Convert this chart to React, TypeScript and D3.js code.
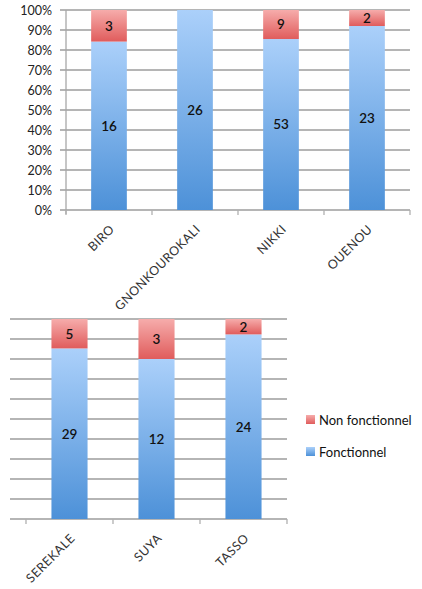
import React from "react";
import * as d3 from "d3";

// Top panel
const topCategories = ["BIRO", "GNONKOUROKALI", "NIKKI", "OUENOU"];
const topFonctionnel = [16, 26, 53, 23];
const topNonFonctionnel = [3, 0, 9, 2];

// Bottom panel
const bottomCategories = ["SEREKALE", "SUYA", "TASSO"];
const bottomFonctionnel = [29, 12, 24];
const bottomNonFonctionnel = [5, 3, 2];

const yTicks = [0, 0.1, 0.2, 0.3, 0.4, 0.5, 0.6, 0.7, 0.8, 0.9, 1];
const seriesNames = ["Non fonctionnel", "Fonctionnel"];

const FONT = "Lato, 'Open Sans', sans-serif";

type PanelProps = {
  categories: string[];
  fonct: number[];
  nonFonct: number[];
  x0: number;
  x1: number;
  gridLeft: number;
  yTop: number;
  yBottom: number;
  showYAxis: boolean;
};

function Panel({ categories, fonct, nonFonct, x0, x1, gridLeft, yTop, yBottom, showYAxis }: PanelProps) {
  const x = d3.scaleBand<string>().domain(categories).range([x0, x1]).padding(0);
  const y = d3.scaleLinear().domain([0, 1]).range([yBottom, yTop]);
  const barW = x.step() * 0.415;
  const pct = d3.format(".0%");
  const boundaries = d3.range(categories.length + 1).map((i) => x0 + i * x.step());

  return (
    <g>
      {yTicks.map((t) => (
        <line key={t} x1={gridLeft} x2={x1} y1={y(t)} y2={y(t)} stroke="#9c9c9c" strokeWidth={1.3} />
      ))}
      {showYAxis && <line x1={x0} x2={x0} y1={yTop} y2={yBottom + 4} stroke="#a8a8a8" strokeWidth={1.3} />}
      {showYAxis &&
        yTicks.map((t) => (
          <text
            key={"l" + t}
            x={52}
            y={y(t)}
            dy="0.36em"
            textAnchor="end"
            fontSize={12.5}
            fill="#222"
            fontFamily={FONT}
          >
            {pct(t)}
          </text>
        ))}
      {boundaries.map((b, i) => (
        <line key={"b" + i} x1={b} x2={b} y1={yBottom} y2={yBottom + 5} stroke="#b0b0b0" strokeWidth={1.3} />
      ))}
      {categories.map((c, i) => {
        const total = fonct[i] + nonFonct[i];
        const pF = fonct[i] / total;
        const cx = x(c)! + x.bandwidth() / 2;
        const bx = cx - barW / 2;
        return (
          <g key={c}>
            <rect x={bx} y={y(pF)} width={barW} height={y(0) - y(pF)} fill="url(#gradBlue)" />
            {nonFonct[i] > 0 && (
              <rect x={bx} y={y(1)} width={barW} height={y(pF) - y(1)} fill="url(#gradRed)" />
            )}
            <text
              x={cx}
              y={(y(0) + y(pF)) / 2}
              dy="0.36em"
              textAnchor="middle"
              fontSize={13.5}
              fontWeight={600}
              fill="#111"
              fontFamily={FONT}
            >
              {fonct[i]}
            </text>
            {nonFonct[i] > 0 && (
              <text
                x={cx}
                y={(y(pF) + y(1)) / 2}
                dy="0.36em"
                textAnchor="middle"
                fontSize={13.5}
                fontWeight={600}
                fill="#111"
                fontFamily={FONT}
              >
                {nonFonct[i]}
              </text>
            )}
            <text
              transform={`translate(${cx + 3},${yBottom + 17}) rotate(-45)`}
              textAnchor="end"
              dy="0.35em"
              fontSize={12.5}
              letterSpacing={0.4}
              fill="#333"
              fontFamily={FONT}
            >
              {c}
            </text>
          </g>
        );
      })}
    </g>
  );
}

export default function App() {
  const legendColors = ["url(#gradRed)", "url(#gradBlue)"];
  return (
    <svg width={422} height={589} style={{ position: "absolute", left: 0, top: 0, background: "#fff" }}>
      <defs>
        <linearGradient id="gradBlue" x1="0" y1="0" x2="0" y2="1">
          <stop offset="0%" stopColor="#abd0fa" />
          <stop offset="100%" stopColor="#4d91d8" />
        </linearGradient>
        <linearGradient id="gradRed" x1="0" y1="0" x2="0" y2="1">
          <stop offset="0%" stopColor="#f6acab" />
          <stop offset="100%" stopColor="#e05c5c" />
        </linearGradient>
      </defs>
      <rect width={422} height={589} fill="#fff" />
      <Panel
        categories={topCategories}
        fonct={topFonctionnel}
        nonFonct={topNonFonctionnel}
        x0={66}
        x1={410}
        gridLeft={60}
        yTop={10}
        yBottom={210}
        showYAxis={true}
      />
      <Panel
        categories={bottomCategories}
        fonct={bottomFonctionnel}
        nonFonct={bottomNonFonctionnel}
        x0={26}
        x1={287}
        gridLeft={10}
        yTop={319}
        yBottom={519}
        showYAxis={false}
      />
      {seriesNames.map((s, i) => (
        <g key={s} transform={`translate(306,${415 + i * 32})`}>
          <rect width={9} height={9} fill={legendColors[i]} />
          <text x={13} y={5} dy="0.36em" fontSize={13} fill="#111" fontFamily={FONT}>
            {s}
          </text>
        </g>
      ))}
    </svg>
  );
}
